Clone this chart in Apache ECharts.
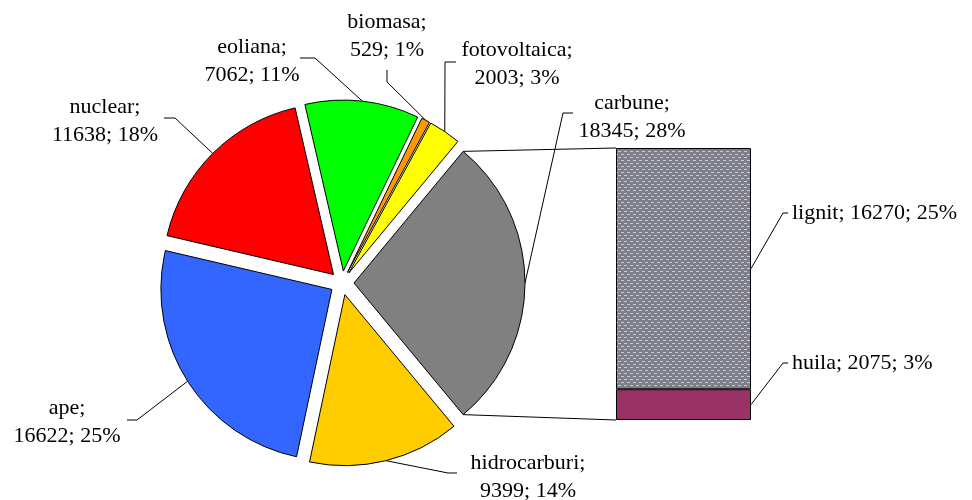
<!DOCTYPE html>
<html>
<head>
<meta charset="utf-8">
<script src="https://cdn.jsdelivr.net/npm/echarts@6/dist/echarts.min.js"></script>
<style>
  html, body { margin: 0; padding: 0; background: #fff; }
  #chart { width: 972px; height: 500px; }
</style>
</head>
<body>
<div id="chart"></div>
<script>
// date: surse de energie (pie + bara pentru carbune)
const pieNames = ['carbune', 'hidrocarburi', 'ape', 'nuclear', 'eoliana', 'biomasa', 'fotovoltaica'];
const pieValues = [18345, 9399, 16622, 11638, 7062, 529, 2003];
const barNames = ['lignit', 'huila'];
const barValues = [16270, 2075];

const pieColors = ['#808080', '#FFCC00', '#3366FF', '#FF0000', '#00FF00', '#FF9900', '#FFFF00'];
// pozitia etichetelor (centrul blocului de text) si capatul liniilor de legatura
const pieLabelPos = [[632, 117], [528, 477], [67, 422], [105, 121], [252, 61], [387, 36], [517, 64]];
const pieLeader = [
  [[563, 113], [573, 113]], [[448, 473], [457, 473]], [[137, 420], [127, 420]],
  [[175, 118], [164, 118]], [[315, 58], [300, 58]], [[387, 82], [387, 70]], [[445, 62], [456, 62]]
];
const barLabelPos = [[792, 213], [792, 363]];
const barLeader = [[[783, 213], [788, 213]], [[783, 363], [788, 363]]];

const total = pieValues.reduce((a, b) => a + b, 0);
const pct = v => Math.round(v / total * 100) + '%';

const PIE_CX = 342, PIE_CY = 283, PIE_R = 171, EXPLODE = 12;
const startAngle = pieValues[0] / total * 180; // carbune centrat pe orizontala
const BAR = { left: 616, top: 148, width: 135, height: 272 };

// unghiul median al fiecarei felii (grade, sens trigonometric)
const midAngles = [];
let acc = 0;
pieValues.forEach(v => {
  midAngles.push(startAngle - (acc + v / 2) / total * 360);
  acc += v;
});
const rad = d => d * Math.PI / 180;
// fiecare felie e "scoasa" pe directia unghiului median
const sliceCenters = midAngles.map(m => [PIE_CX + EXPLODE * Math.cos(rad(m)), PIE_CY - EXPLODE * Math.sin(rad(m))]);
const edgePoint = k => [sliceCenters[k][0] + PIE_R * Math.cos(rad(midAngles[k])), sliceCenters[k][1] - PIE_R * Math.sin(rad(midAngles[k]))];

// textura pentru lignit (gri cu liniute deschise)
function makePattern() {
  const c = document.createElement('canvas');
  c.width = 6; c.height = 6;
  const ctx = c.getContext('2d');
  ctx.fillStyle = '#7f7f8a';
  ctx.fillRect(0, 0, 6, 6);
  ctx.fillStyle = '#c8c8de';
  ctx.fillRect(0, 1, 3, 1);
  ctx.fillRect(3, 4, 3, 1);
  return c;
}
const barFill = [{ image: makePattern(), repeat: 'repeat' }, '#993366'];

const font = { fontFamily: "'Liberation Serif', 'DejaVu Serif', serif", fontSize: 22, lineHeight: 28, color: '#000' };
const lineStyle = { stroke: '#000', lineWidth: 1, fill: null };

// linii de legatura intre felia carbune si bara
const a0 = rad(startAngle);
const cTop = [sliceCenters[0][0] + PIE_R * Math.cos(a0), sliceCenters[0][1] - PIE_R * Math.sin(a0)];
const cBot = [sliceCenters[0][0] + PIE_R * Math.cos(a0), sliceCenters[0][1] + PIE_R * Math.sin(a0)];

const graphics = [
  { type: 'line', shape: { x1: cTop[0], y1: cTop[1], x2: BAR.left, y2: BAR.top }, style: lineStyle },
  { type: 'line', shape: { x1: cBot[0], y1: cBot[1], x2: BAR.left, y2: BAR.top + BAR.height }, style: lineStyle }
];
pieLeader.forEach((pts, k) => {
  graphics.push({ type: 'polyline', shape: { points: [edgePoint(k), ...pts] }, style: lineStyle });
});
// bara: huila jos, lignit sus
const barSum = barValues[0] + barValues[1];
const segMid = i => {
  const below = i === 0 ? barValues[1] : 0;
  return BAR.top + BAR.height * (1 - (below + barValues[i] / 2) / barSum);
};
barLeader.forEach((pts, i) => {
  graphics.push({ type: 'polyline', shape: { points: [[BAR.left + BAR.width, segMid(i)], ...pts] }, style: lineStyle });
});

const chart = echarts.init(document.getElementById('chart'));

const pieSeries = pieNames.map((name, k) => ({
  type: 'pie',
  center: sliceCenters[k],
  radius: [0, PIE_R],
  startAngle: startAngle,
  clockwise: true,
  avoidLabelOverlap: false,
  silent: true,
  z: 2,
  data: pieNames.map((n, i) => i === k
    ? { name: n, value: pieValues[i], itemStyle: { color: pieColors[i] } }
    : { name: n, value: pieValues[i], itemStyle: { opacity: 0, borderWidth: 0 }, label: { show: false }, labelLine: { show: false } }),
  itemStyle: { borderColor: '#000', borderWidth: 1 },
  label: {
    show: true, position: 'outside', align: 'center', ...font,
    formatter: p => p.name + ';\n' + p.value + '; ' + pct(p.value)
  },
  labelLine: { show: false },
  labelLayout: p => ({
    x: pieLabelPos[p.dataIndex][0], y: pieLabelPos[p.dataIndex][1],
    align: 'center', verticalAlign: 'middle'
  })
}));

const barSeries = [1, 0].map(i => ({
  type: 'bar',
  name: barNames[i],
  stack: 'carbune',
  barWidth: '100%',
  silent: true,
  data: [barValues[i]],
  itemStyle: { color: barFill[i], borderColor: '#000', borderWidth: 1 },
  label: {
    show: true, position: 'right', ...font,
    formatter: p => p.seriesName + '; ' + p.value + '; ' + pct(p.value)
  },
  labelLayout: () => ({
    x: barLabelPos[i][0], y: barLabelPos[i][1],
    align: 'left', verticalAlign: 'middle'
  })
}));

chart.setOption({
  backgroundColor: '#fff',
  animation: false,
  grid: { left: BAR.left, top: BAR.top, width: BAR.width, height: BAR.height },
  xAxis: { type: 'category', data: ['carbune'], show: false },
  yAxis: { type: 'value', min: 0, max: barSum, show: false },
  graphic: graphics,
  series: [...pieSeries, ...barSeries]
});
</script>
</body>
</html>
